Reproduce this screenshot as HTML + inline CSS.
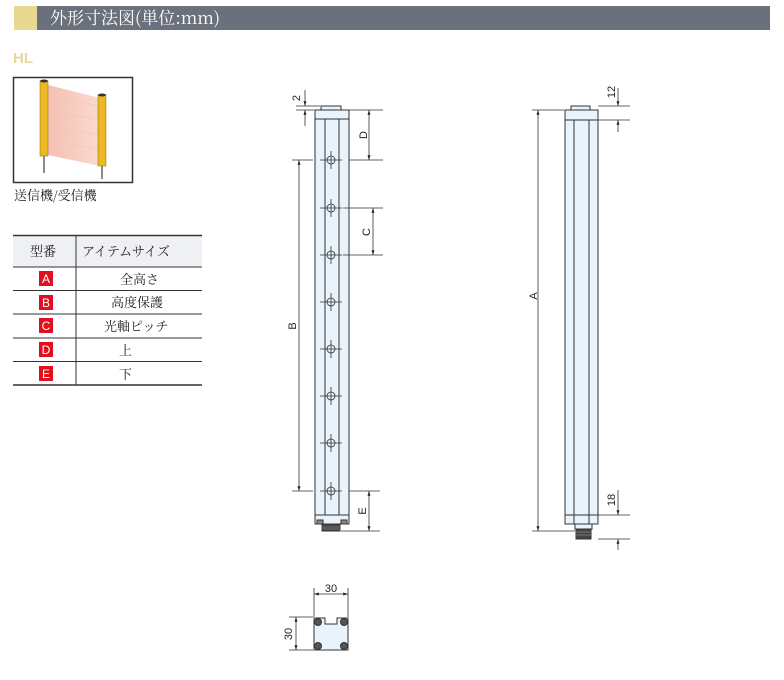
<!DOCTYPE html>
<html><head><meta charset="utf-8"><style>
html,body{margin:0;padding:0;background:#fff;width:784px;height:680px;overflow:hidden}
svg{display:block}
</style></head><body>
<svg width="784" height="680" viewBox="0 0 784 680" xmlns="http://www.w3.org/2000/svg" font-family="'Liberation Sans','Noto Sans CJK JP',sans-serif">
<defs>
<marker id="ar" viewBox="0 0 8 8" refX="8" refY="4" markerWidth="6" markerHeight="6" orient="auto-start-reverse"><path d="M0,1.5 L8,4 L0,6.5 z" fill="#222"/></marker>
<linearGradient id="beam" x1="0" x2="1"><stop offset="0" stop-color="#f3b0a0"/><stop offset="1" stop-color="#f8d0c4"/></linearGradient>
</defs>
<!-- header -->
<rect x="14" y="6" width="23" height="24" fill="#e8d890"/>
<rect x="37" y="6" width="733" height="24" fill="#6b717c"/>
<text x="50" y="24" font-family="'Noto Serif CJK SC','Liberation Serif',serif" font-size="17" fill="#fff">外形寸法図(単位:mm)</text>
<text x="13" y="63" font-size="15" font-weight="bold" fill="#e8d79a">HL</text>
<!-- photo -->
<rect x="13.5" y="77.5" width="119" height="105" fill="#fff" stroke="#333" stroke-width="1.5"/>
<polygon points="48,85 100,98 100,166 48,155" fill="url(#beam)" opacity="0.8"/>
<g stroke="#f6c0b2" stroke-width="0.5"><line x1="48" y1="95" x2="100" y2="106"/><line x1="48" y1="110" x2="100" y2="120"/><line x1="48" y1="125" x2="100" y2="135"/><line x1="48" y1="140" x2="100" y2="150"/></g>
<rect x="40" y="81" width="8" height="75" fill="#ecb923" stroke="#8a6a10" stroke-width="0.5"/>
<ellipse cx="44" cy="81" rx="4" ry="1.5" fill="#333"/>
<line x1="44" y1="156" x2="44" y2="173" stroke="#666" stroke-width="1.5"/>
<rect x="98" y="95" width="8" height="71" fill="#ecb923" stroke="#8a6a10" stroke-width="0.5"/>
<ellipse cx="102" cy="95" rx="4" ry="1.5" fill="#333"/>
<line x1="102" y1="166" x2="102" y2="179" stroke="#666" stroke-width="1.5"/>
<text x="14" y="200" font-size="13" fill="#222" font-family="'Noto Serif CJK SC','Liberation Serif',serif">送信機/受信機</text>
<!-- table -->
<rect x="13" y="236" width="189" height="31" fill="#eef0f3"/>
<g stroke="#333" stroke-width="1">
<line x1="13" y1="235.5" x2="202" y2="235.5" stroke-width="1.5"/>
<line x1="13" y1="267" x2="202" y2="267"/>
<line x1="13" y1="290.5" x2="202" y2="290.5"/>
<line x1="13" y1="314" x2="202" y2="314"/>
<line x1="13" y1="338" x2="202" y2="338"/>
<line x1="13" y1="361.5" x2="202" y2="361.5"/>
<line x1="13" y1="385" x2="202" y2="385" stroke-width="1.5"/>
<line x1="76" y1="235" x2="76" y2="385"/>
</g>
<g font-size="13" fill="#222" font-family="'Noto Serif CJK SC','Liberation Serif',serif">
<text x="30" y="256">型番</text>
<text x="82" y="256">アイテムサイズ</text>
<text x="120" y="284">全高さ</text>
<text x="111" y="307">高度保護</text>
<text x="104" y="331">光軸ピッチ</text>
<text x="119" y="355">上</text>
<text x="119" y="379">下</text>
</g>
<g fill="#e0101e"><rect x="39" y="271" width="14" height="15"/><rect x="39" y="295" width="14" height="15"/><rect x="39" y="318" width="14" height="15"/><rect x="39" y="342" width="14" height="15"/><rect x="39" y="366" width="14" height="15"/></g>
<g fill="#fff" font-size="12" text-anchor="middle"><text x="46" y="283">A</text><text x="46" y="307">B</text><text x="46" y="330">C</text><text x="46" y="354">D</text><text x="46" y="378">E</text></g>

<!-- left sensor -->
<g stroke="#333" stroke-width="1" fill="none">
<rect x="321" y="106" width="20" height="5" fill="#e8f3fb"/>
<rect x="315" y="110" width="34" height="414" fill="#e8f3fb"/>
<line x1="315" y1="119" x2="349" y2="119"/>
<line x1="315" y1="515" x2="349" y2="515"/>
<line x1="325" y1="119" x2="325" y2="515"/>
<line x1="339" y1="119" x2="339" y2="515"/>
<rect x="317" y="520" width="6" height="4" fill="#888"/><rect x="341" y="520" width="6" height="4" fill="#888"/>
<rect x="322" y="524" width="18" height="7" fill="#444"/>
</g>
<g stroke="#999" stroke-width="0.6"><line x1="322" y1="527" x2="340" y2="527"/><line x1="322" y1="529" x2="340" y2="529"/></g>
<g stroke="#333" stroke-width="0.8" fill="none">
<g id="h"><circle cx="331" cy="160" r="4"/><line x1="320" y1="160" x2="342" y2="160"/><line x1="331" y1="151" x2="331" y2="169"/></g>
<use href="#h" y="48"/><use href="#h" y="95"/><use href="#h" y="142"/><use href="#h" y="189"/><use href="#h" y="236"/><use href="#h" y="283"/><use href="#h" y="331"/>
</g>
<!-- left dims -->
<g stroke="#333" stroke-width="0.8">
<line x1="296" y1="106" x2="320" y2="106"/><line x1="296" y1="110" x2="314" y2="110"/>
<line x1="305" y1="90" x2="305" y2="106" marker-end="url(#ar)"/><line x1="305" y1="126" x2="305" y2="110" marker-end="url(#ar)"/>
<line x1="349" y1="110" x2="383" y2="110"/><line x1="349" y1="160" x2="383" y2="160"/>
<line x1="369" y1="110" x2="369" y2="160" marker-start="url(#ar)" marker-end="url(#ar)"/>
<line x1="343" y1="208" x2="383" y2="208"/><line x1="343" y1="255" x2="383" y2="255"/>
<line x1="373" y1="208" x2="373" y2="255" marker-start="url(#ar)" marker-end="url(#ar)"/>
<line x1="292" y1="160" x2="313" y2="160"/><line x1="292" y1="491" x2="313" y2="491"/>
<line x1="299" y1="160" x2="299" y2="491" marker-start="url(#ar)" marker-end="url(#ar)"/>
<line x1="349" y1="491" x2="380" y2="491"/><line x1="341" y1="531" x2="380" y2="531"/>
<line x1="369" y1="491" x2="369" y2="531" marker-start="url(#ar)" marker-end="url(#ar)"/>
</g>
<g font-size="11" fill="#222" text-anchor="middle">
<text transform="translate(300,98) rotate(-90)">2</text>
<text transform="translate(367,135) rotate(-90)">D</text>
<text transform="translate(370,232) rotate(-90)">C</text>
<text transform="translate(296,326) rotate(-90)">B</text>
<text transform="translate(366,511) rotate(-90)">E</text>
<text transform="translate(537,296) rotate(-90)">A</text>
<text transform="translate(615,92) rotate(-90)">12</text>
<text transform="translate(615,500) rotate(-90)">18</text>
<text x="331" y="592">30</text>
<text transform="translate(292,634) rotate(-90)">30</text>
</g>

<!-- right sensor -->
<g stroke="#333" stroke-width="1" fill="none">
<rect x="571" y="106" width="19" height="5" fill="#e8f3fb"/>
<rect x="565" y="110" width="33" height="414" fill="#e8f3fb"/>
<line x1="565" y1="120" x2="598" y2="120"/>
<line x1="565" y1="515" x2="598" y2="515"/>
<line x1="574" y1="120" x2="574" y2="524"/>
<line x1="589" y1="120" x2="589" y2="524"/>
<rect x="575" y="524" width="17" height="5" fill="#e8f3fb"/>
<rect x="576" y="529" width="15" height="10" fill="#444"/>
</g>
<g stroke="#999" stroke-width="0.6"><line x1="576" y1="532" x2="591" y2="532"/><line x1="576" y1="535" x2="591" y2="535"/></g>
<g stroke="#333" stroke-width="0.8">
<line x1="532" y1="110" x2="564" y2="110"/><line x1="532" y1="531" x2="575" y2="531"/>
<line x1="538" y1="110" x2="538" y2="531" marker-start="url(#ar)" marker-end="url(#ar)"/>
<line x1="598" y1="106" x2="630" y2="106"/><line x1="598" y1="120" x2="630" y2="120"/>
<line x1="618" y1="88" x2="618" y2="106" marker-end="url(#ar)"/><line x1="618" y1="132" x2="618" y2="120" marker-end="url(#ar)"/>
<line x1="598" y1="515" x2="630" y2="515"/><line x1="598" y1="539" x2="630" y2="539"/>
<line x1="618" y1="490" x2="618" y2="515" marker-end="url(#ar)"/><line x1="618" y1="550" x2="618" y2="539" marker-end="url(#ar)"/>
</g>

<!-- cross section -->
<g stroke="#333" stroke-width="1">
<path d="M314,618 H325 V624 H337 V618 H348 V650 H314 Z" fill="#e8f3fb"/>
<circle cx="318" cy="622" r="3.5" fill="#555"/><circle cx="344" cy="622" r="3.5" fill="#555"/>
<circle cx="318" cy="646" r="3.5" fill="#555"/><circle cx="344" cy="646" r="3.5" fill="#555"/>
</g>
<g stroke="#333" stroke-width="0.8">
<line x1="314" y1="588" x2="314" y2="617"/><line x1="348" y1="588" x2="348" y2="617"/>
<line x1="314" y1="594" x2="348" y2="594" marker-start="url(#ar)" marker-end="url(#ar)"/>
<line x1="289" y1="617" x2="313" y2="617"/><line x1="289" y1="650" x2="313" y2="650"/>
<line x1="296" y1="617" x2="296" y2="650" marker-start="url(#ar)" marker-end="url(#ar)"/>
</g>
</svg>
</body></html>
